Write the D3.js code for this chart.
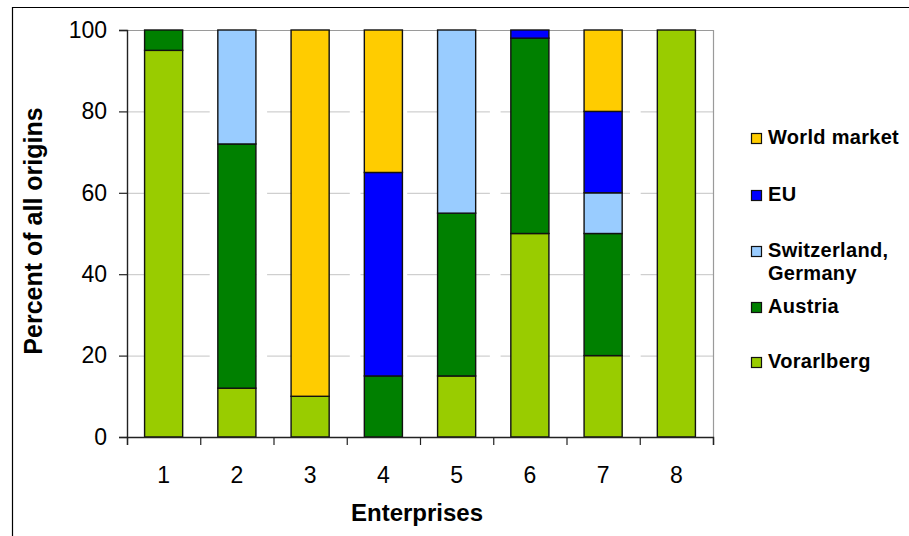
<!DOCTYPE html>
<html>
<head>
<meta charset="utf-8">
<script src="https://cdn.jsdelivr.net/npm/d3@7"></script>
<style>
  html, body { margin: 0; padding: 0; background: #fff; }
  svg { display: block; font-family: "Liberation Sans", Arial, sans-serif; }
</style>
</head>
<body>
<svg id="chart" width="909" height="536"></svg>
<script>
// Origin shares (percent) per enterprise, stacked bottom to top
const categories = ["1", "2", "3", "4", "5", "6", "7", "8"];
const vorarlberg  = [95, 12, 10,  0, 15, 50, 20, 100];
const austria     = [ 5, 60,  0, 15, 40, 48, 30,   0];
const switzerland = [ 0, 28,  0,  0, 45,  0, 10,   0];
const eu          = [ 0,  0,  0, 50,  0,  2, 20,   0];
const worldMarket = [ 0,  0, 90, 35,  0,  0, 20,   0];
const yTicks = [0, 20, 40, 60, 80, 100];

const seriesNames = ["Vorarlberg", "Austria", "Switzerland, Germany", "EU", "World market"];
const seriesValues = [vorarlberg, austria, switzerland, eu, worldMarket];
const seriesColors = ["#99CC00", "#008000", "#99CCFF", "#0000FF", "#FFCC00"];

const rows = categories.map((c, i) => {
  const r = { cat: c };
  seriesNames.forEach((s, k) => { r[s] = seriesValues[k][i]; });
  return r;
});

const svg = d3.select("#chart");
const plotLeft = 127, plotRight = 713, plotTop = 30, plotBottom = 437;

// outer frame
svg.append("path")
  .attr("d", "M12.5,536 V7.5 H909")
  .attr("fill", "none").attr("stroke", "#000").attr("stroke-width", 1.2);

const x = d3.scaleBand().domain(categories).range([plotLeft, plotRight])
  .paddingInner(0.48).paddingOuter(0.24);
const xEdges = d3.scaleLinear().domain([0, categories.length]).range([plotLeft, plotRight]);
const y = d3.scaleLinear().domain([0, 100]).range([plotBottom, plotTop]);

// gridlines
svg.append("g").selectAll("line")
  .data(yTicks.filter(t => t > 0 && t < 100))
  .join("line")
  .attr("x1", plotLeft).attr("x2", plotRight)
  .attr("y1", d => y(d) + 0.5).attr("y2", d => y(d) + 0.5)
  .attr("stroke", "#c4c4c4").attr("stroke-width", 1)
  .attr("stroke-dasharray", "36,10.7");

// plot border (top and right)
svg.append("path")
  .attr("d", `M${plotLeft},${y(100) + 0.5} H${plotRight + 0.5} V${plotBottom}`)
  .attr("fill", "none").attr("stroke", "#9a9a9a").attr("stroke-width", 1.2);

// stacked bars
const stack = d3.stack().keys(seriesNames)(rows);
const layers = svg.append("g").selectAll("g")
  .data(stack).join("g")
  .attr("fill", (d, i) => seriesColors[i]);
layers.selectAll("rect")
  .data(d => d.filter(p => p[1] - p[0] > 0))
  .join("rect")
  .attr("x", d => x(d.data.cat))
  .attr("width", x.bandwidth())
  .attr("y", d => y(d[1]))
  .attr("height", d => y(d[0]) - y(d[1]))
  .attr("stroke", "#111").attr("stroke-width", 1.4);

// y axis
const yAxis = svg.append("g").attr("transform", `translate(${plotLeft},0)`)
  .call(d3.axisLeft(y).tickValues(yTicks).tickSize(8).tickPadding(12));
yAxis.select(".domain").attr("stroke", "#222").attr("stroke-width", 1.4);
yAxis.selectAll(".tick line").attr("stroke", "#222").attr("stroke-width", 1.2);
yAxis.selectAll("text").attr("font-size", 23).attr("fill", "#000")
  .attr("font-family", "'Liberation Sans', Arial, sans-serif");

// x axis: boundary ticks and centred labels
const xTickG = svg.append("g").attr("transform", `translate(0,${plotBottom})`)
  .call(d3.axisBottom(xEdges).tickValues(d3.range(categories.length + 1))
    .tickSize(8).tickFormat(""));
xTickG.select(".domain").attr("stroke", "#222").attr("stroke-width", 1.4);
xTickG.selectAll(".tick line").attr("stroke", "#222").attr("stroke-width", 1.2);

const xLab = svg.append("g").attr("transform", `translate(0,${plotBottom})`)
  .call(d3.axisBottom(x).tickSize(0).tickPadding(30));
xLab.select(".domain").remove();
xLab.selectAll("text").attr("font-size", 23).attr("fill", "#000")
  .attr("font-family", "'Liberation Sans', Arial, sans-serif");

// axis titles
svg.append("text")
  .attr("transform", "translate(42,231) rotate(-90)")
  .attr("text-anchor", "middle")
  .attr("font-size", 25).attr("font-weight", "bold")
  .text("Percent of all origins");

svg.append("text")
  .attr("x", 417).attr("y", 521)
  .attr("text-anchor", "middle")
  .attr("font-size", 24).attr("font-weight", "bold")
  .text("Enterprises");

// legend, top entry first
const legendItems = [
  { name: "World market", lines: ["World market"], base: 144 },
  { name: "EU", lines: ["EU"], base: 201 },
  { name: "Switzerland, Germany", lines: ["Switzerland,", "Germany"], base: 257 },
  { name: "Austria", lines: ["Austria"], base: 313 },
  { name: "Vorarlberg", lines: ["Vorarlberg"], base: 368 }
];
const legend = svg.append("g");
legendItems.forEach(item => {
  const k = seriesNames.indexOf(item.name);
  legend.append("rect")
    .attr("x", 751.5).attr("y", item.base - 10.5)
    .attr("width", 10).attr("height", 10)
    .attr("fill", seriesColors[k])
    .attr("stroke", "#111").attr("stroke-width", 1.2);
  const t = legend.append("text")
    .attr("x", 768).attr("y", item.base)
    .attr("font-size", 20).attr("font-weight", "bold")
    .attr("letter-spacing", 0.3);
  item.lines.forEach((ln, j) => {
    t.append("tspan").attr("x", 768).attr("dy", j === 0 ? 0 : 23).text(ln);
  });
});
</script>
</body>
</html>
